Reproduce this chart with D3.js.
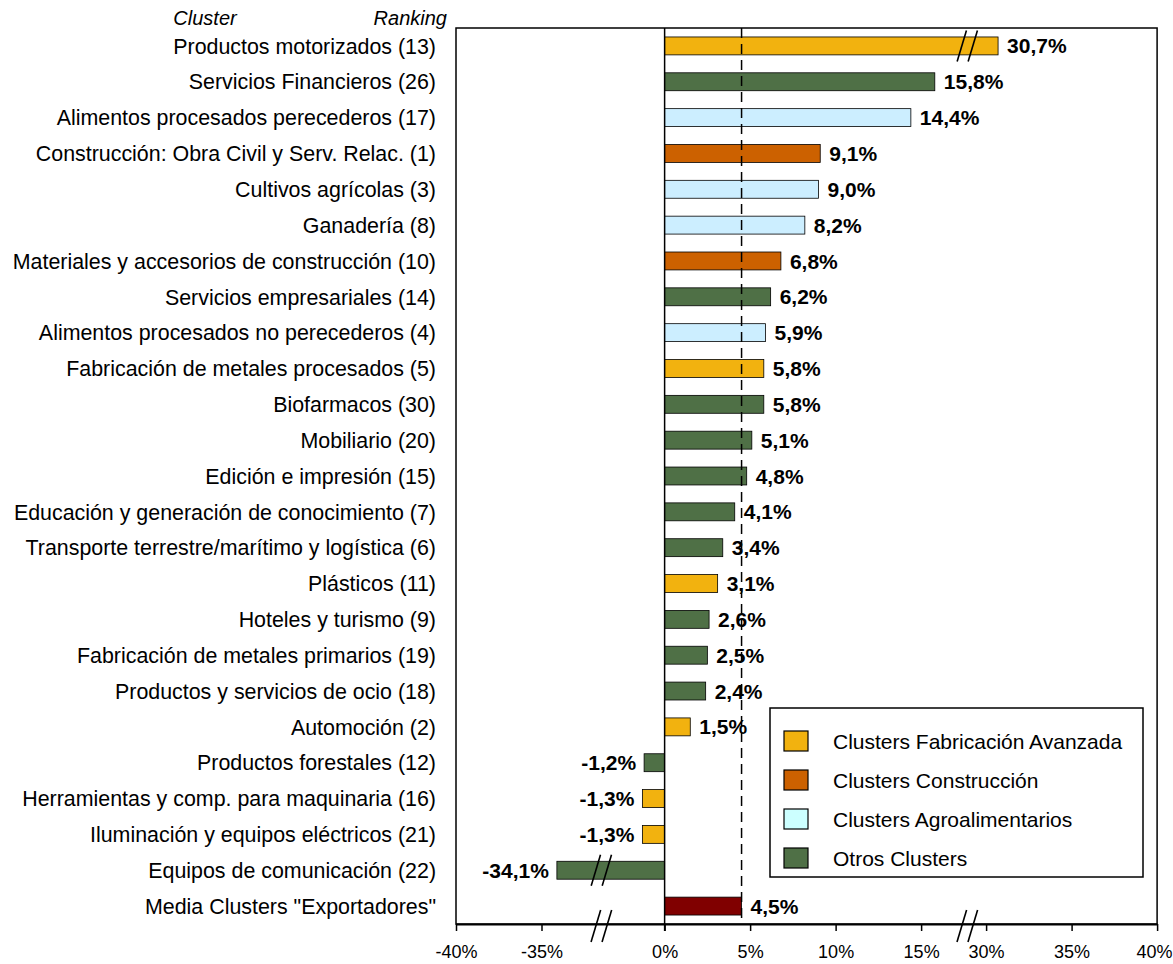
<!DOCTYPE html>
<html>
<head>
<meta charset="utf-8">
<script src="https://cdn.jsdelivr.net/npm/d3@7"></script>
<style>
  body { margin: 0; background: #fff; }
  text { font-family: "Liberation Sans", Arial, sans-serif; }
</style>
</head>
<body>
<div id="chart"></div>
<script>
// data
const categories = [
  'Productos motorizados (13)',
  'Servicios Financieros (26)',
  'Alimentos procesados perecederos (17)',
  'Construcción: Obra Civil y Serv. Relac. (1)',
  'Cultivos agrícolas (3)',
  'Ganadería (8)',
  'Materiales y accesorios de construcción (10)',
  'Servicios empresariales (14)',
  'Alimentos procesados no perecederos (4)',
  'Fabricación de metales procesados (5)',
  'Biofarmacos (30)',
  'Mobiliario (20)',
  'Edición e impresión (15)',
  'Educación y generación de conocimiento (7)',
  'Transporte terrestre/marítimo y logística (6)',
  'Plásticos (11)',
  'Hoteles y turismo (9)',
  'Fabricación de metales primarios (19)',
  'Productos y servicios de ocio (18)',
  'Automoción (2)',
  'Productos forestales (12)',
  'Herramientas y comp. para maquinaria (16)',
  'Iluminación y equipos eléctricos (21)',
  'Equipos de comunicación (22)',
  'Media Clusters "Exportadores"'
];
const values = [30.7, 15.8, 14.4, 9.1, 9.0, 8.2, 6.8, 6.2, 5.9, 5.8, 5.8, 5.1, 4.8,
  4.1, 3.4, 3.1, 2.6, 2.5, 2.4, 1.5, -1.2, -1.3, -1.3, -34.1, 4.5];
const groups = ['fab', 'otros', 'agro', 'cons', 'agro', 'agro', 'cons', 'otros', 'agro',
  'fab', 'otros', 'otros', 'otros', 'otros', 'otros', 'fab', 'otros', 'otros', 'otros',
  'fab', 'otros', 'fab', 'fab', 'otros', 'media'];
const meanValue = 4.5;
const tickValues = [-40, -35, 0, 5, 10, 15, 30, 35, 40];
const legendKeys = ['fab', 'cons', 'agro', 'otros'];
const legendLabels = ['Clusters Fabricación Avanzada', 'Clusters Construcción',
  'Clusters Agroalimentarios', 'Otros Clusters'];

const colors = {
  fab: '#F2B20F',
  cons: '#CC6100',
  agro: '#CCEEFF',
  otros: '#4F7046',
  media: '#800000'
};
const legendColors = { fab: '#F2B20F', cons: '#CC6100', agro: '#CCFFFF', otros: '#4F7046' };

const width = 1173, height = 964;
const plotTop = 28, plotBottom = 924, plotLeft = 456;
const pxPer = 17.1; // pixels per percentage point

// broken axis: three pieces glued together
const pieces = [[-40, -31.5], [-3.7, 17.7], [28.9, 40]];
const domain = [], range = [];
let pos = plotLeft;
pieces.forEach(([a, b]) => {
  domain.push(a, b);
  range.push(pos, pos + (b - a) * pxPer);
  pos += (b - a) * pxPer;
});
const x = d3.scaleLinear().domain(domain).range(range);
const breaks = [x(-31.5), x(17.7)];

const y = d3.scaleBand()
  .domain(categories)
  .range([plotTop, plotBottom])
  .paddingInner(0.5)
  .paddingOuter(0.25);

const svg = d3.select('#chart').append('svg')
  .attr('width', width)
  .attr('height', height);

// plot box
svg.append('rect')
  .attr('x', x(-40)).attr('y', plotTop)
  .attr('width', x(40) - x(-40)).attr('height', plotBottom - plotTop)
  .attr('fill', 'none').attr('stroke', '#000').attr('stroke-width', 1.5);

// column headers
svg.append('text').attr('x', 205).attr('y', 25)
  .attr('text-anchor', 'middle').attr('font-style', 'italic').attr('font-size', 20)
  .text('Cluster');
svg.append('text').attr('x', 447).attr('y', 25)
  .attr('text-anchor', 'end').attr('font-style', 'italic').attr('font-size', 20)
  .text('Ranking');

// bars
const rows = categories.map((c, i) => ({ c, v: values[i], g: groups[i] }));

svg.append('g').selectAll('rect')
  .data(rows)
  .join('rect')
  .attr('x', d => Math.min(x(0), x(d.v)))
  .attr('y', d => y(d.c))
  .attr('width', d => Math.abs(x(d.v) - x(0)))
  .attr('height', y.bandwidth())
  .attr('fill', d => colors[d.g])
  .attr('stroke', '#000')
  .attr('stroke-width', 0.8);

// zero line and mean line
svg.append('line')
  .attr('x1', x(0)).attr('x2', x(0)).attr('y1', plotTop).attr('y2', plotBottom + 7)
  .attr('stroke', '#000').attr('stroke-width', 1.5);
svg.append('line')
  .attr('x1', x(meanValue)).attr('x2', x(meanValue)).attr('y1', plotTop).attr('y2', plotBottom)
  .attr('stroke', '#000').attr('stroke-width', 1.5)
  .attr('stroke-dasharray', '10,6');

// category labels
svg.append('g').selectAll('text')
  .data(rows)
  .join('text')
  .attr('x', 436)
  .attr('y', d => y(d.c) + y.bandwidth() / 2)
  .attr('dy', '0.36em')
  .attr('text-anchor', 'end')
  .attr('font-size', 21.4)
  .text(d => d.c);

// value labels
const fmt = v => d3.format('.1f')(v).replace('.', ',').replace('−', '-') + '%';
svg.append('g').selectAll('text')
  .data(rows)
  .join('text')
  .attr('x', d => d.v >= 0 ? x(d.v) + 9 : x(d.v) - 8)
  .attr('y', d => y(d.c) + y.bandwidth() / 2)
  .attr('dy', '0.36em')
  .attr('text-anchor', d => d.v >= 0 ? 'start' : 'end')
  .attr('font-size', 21)
  .attr('font-weight', 'bold')
  .text(d => fmt(d.v));

// x axis
const axis = svg.append('g')
  .attr('transform', `translate(0,${plotBottom})`)
  .call(d3.axisBottom(x).tickValues(tickValues).tickSize(7).tickSizeOuter(0)
    .tickFormat(d => d + '%'));
axis.select('.domain').attr('stroke-width', 1.8);
axis.selectAll('.tick line').attr('stroke-width', 1.5);
axis.selectAll('.tick text')
  .attr('font-family', '"Liberation Sans", Arial, sans-serif')
  .attr('font-size', 18)
  .attr('dy', 0)
  .attr('y', 34)
  .attr('fill', '#000');
// last label sits against the right edge of the page
axis.selectAll('.tick text').filter(d => d === 40)
  .attr('text-anchor', 'end')
  .attr('x', width - 1 - x(40));

// break marks "//"
function slashes(cx, cy, h) {
  const tilt = h * 0.3;
  [-5.5, 5.5].forEach(off => {
    svg.append('line')
      .attr('x1', cx + off - tilt / 2).attr('y1', cy + h / 2)
      .attr('x2', cx + off + tilt / 2).attr('y2', cy - h / 2)
      .attr('stroke', '#000').attr('stroke-width', 1.6);
  });
}
breaks.forEach(bx => slashes(bx, plotBottom + 2, 32));
rows.filter(d => d.v < -31.5 || d.v > 17.7).forEach(d => {
  const bx = d.v < 0 ? breaks[0] : breaks[1];
  slashes(bx, y(d.c) + y.bandwidth() / 2, 31);
});

// legend
const legend = svg.append('g');
legend.append('rect')
  .attr('x', 770).attr('y', 708).attr('width', 373).attr('height', 169)
  .attr('fill', '#fff').attr('stroke', '#000').attr('stroke-width', 1.5);
const ly = d3.scalePoint().domain(legendKeys).range([741, 858]);
legend.selectAll('rect.key')
  .data(legendKeys)
  .join('rect')
  .attr('class', 'key')
  .attr('x', 784).attr('y', d => ly(d) - 10)
  .attr('width', 24).attr('height', 20)
  .attr('fill', d => legendColors[d])
  .attr('stroke', '#000').attr('stroke-width', 1.2);
legend.selectAll('text')
  .data(legendKeys)
  .join('text')
  .attr('x', 833).attr('y', d => ly(d))
  .attr('dy', '0.36em')
  .attr('font-size', 21)
  .text((d, i) => legendLabels[i]);
</script>
</body>
</html>
